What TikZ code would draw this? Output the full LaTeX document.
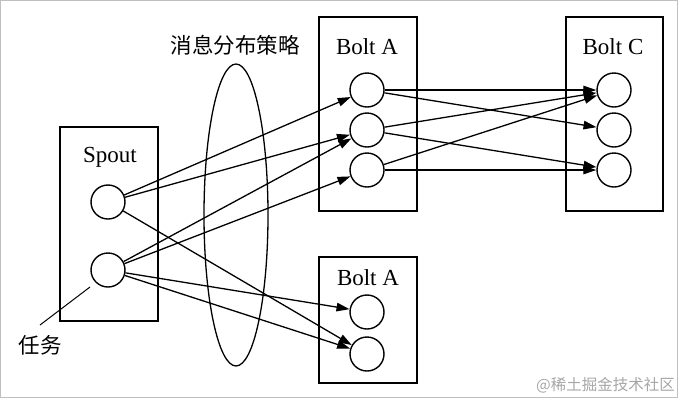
\documentclass[tikz,border=0pt]{standalone}
\usepackage{fontspec}
\setmainfont{Liberation Serif}
\newfontfamily\cjk{Noto Sans CJK SC}
\usetikzlibrary{arrows.meta}
\begin{document}
\begin{tikzpicture}[x=1pt,y=-1pt,
  box/.style={draw,line width=1.4pt,inner sep=0pt},
  task/.style={draw,circle,line width=1.4pt,minimum size=34pt,inner sep=0pt},
  lbl/.style={font=\fontsize{23}{27}\selectfont,inner sep=0pt},
  cjklbl/.style={font=\cjk\fontsize{21.5}{26}\selectfont,inner sep=0pt},
  arr/.style={line width=1.3pt,-{Triangle[length=13pt,width=8.5pt]}},
  lead/.style={line width=1pt}]
\useasboundingbox (0,0) rectangle (680,400);
\draw[black!25,line width=1pt] (0.8,0.8) rectangle (677.5,397.5);
% boxes
\node[box,minimum width=98pt,minimum height=194pt] (spoutbox) at (109,224) {};
\node[box,minimum width=98pt,minimum height=194pt] (boltabox) at (368,114) {};
\node[box,minimum width=97pt,minimum height=194pt] (boltcbox) at (614.5,114) {};
\node[box,minimum width=98pt,minimum height=126pt] (boltbbox) at (368,320) {};
% labels
\node[lbl] (spoutlbl) at (110,157) {Spout};
\node[lbl] (boltalbl) at (367,47) {Bolt A};
\node[lbl] (boltclbl) at (613,47) {Bolt C};
\node[lbl] (boltblbl) at (368,278) {Bolt A};
\node[cjklbl] (strat) at (235,45) {消息分布策略};
\node[cjklbl] (tasklbl) at (40,345) {任务};
% ellipse
\draw[line width=1.3pt] (236,215) ellipse [x radius=32, y radius=151];
% circles
\node[task] (s1) at (108,202) {};
\node[task] (s2) at (108,270) {};
\node[task] (a1) at (367,90) {};
\node[task] (a2) at (367,130) {};
\node[task] (a3) at (367,170) {};
\node[task] (c1) at (614,90) {};
\node[task] (c2) at (614,130) {};
\node[task] (c3) at (614,170) {};
\node[task] (b1) at (367,312) {};
\node[task] (b2) at (367,354) {};
% arrows spout -> bolts
\draw[arr] (s1) -- (a1);
\draw[arr] (s1) -- (a2);
\draw[arr] (s1) -- (b2);
\draw[arr] (s2) -- (a2);
\draw[arr] (s2) -- (a3);
\draw[arr] (s2) -- (b1);
\draw[arr] (s2) -- (b2);
% arrows bolt A -> bolt C
\draw[arr] (a1) -- (c1);
\draw[arr] (a1) -- (c2);
\draw[arr] (a2) -- (c1);
\draw[arr] (a2) -- (c3);
\draw[arr] (a3) -- (c1);
\draw[arr] (a3) -- (c3);
% task leader
\coordinate (t1) at (40,325);
\coordinate (t2) at (90,287);
\draw[lead] (t1) -- (t2);
% watermark
\node[font=\cjk\fontsize{15.5}{18}\selectfont,text=black!35,inner sep=0pt,anchor=east] (wm) at (675,385) {@稀土掘金技术社区};
\end{tikzpicture}
\end{document}
